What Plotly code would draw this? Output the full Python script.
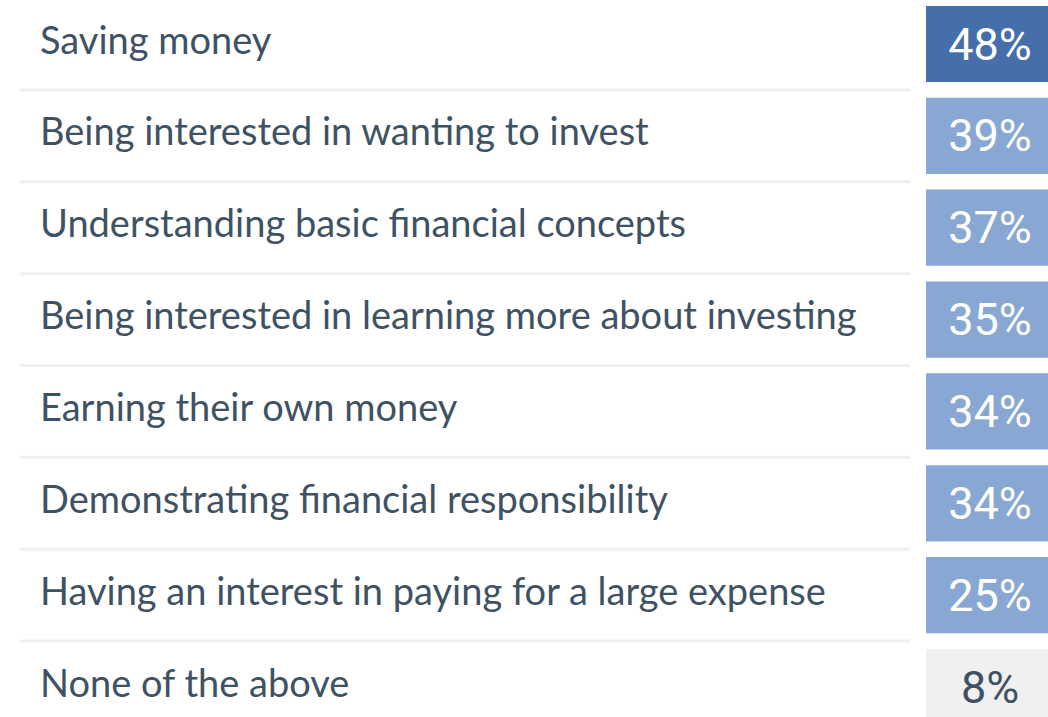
import plotly.graph_objects as go

categories = [
    "Saving money",
    "Being interested in wanting to invest",
    "Understanding basic financial concepts",
    "Being interested in learning more about investing",
    "Earning their own money",
    "Demonstrating financial responsibility",
    "Having an interest in paying for a large expense",
    "None of the above",
]
values = [48, 39, 37, 35, 34, 34, 25, 8]
box_colors = ["#456EAA", "#88A8D3", "#88A8D3", "#88A8D3", "#88A8D3", "#88A8D3", "#88A8D3", "#F0F0F0"]
text_colors = ["#FFFFFF"] * 7 + ["#3E5263"]

W, H = 1048, 717
label_color = "#3E5263"
n = len(categories)
idx = list(range(n))

fig = go.Figure()

# Value boxes (fixed-width cells) with percentage text
fig.add_trace(go.Bar(
    x=[1] * n,
    y=idx,
    orientation="h",
    width=0.83,
    marker=dict(color=box_colors, line=dict(width=0)),
    text=[f"{v}%" for v in values],
    textposition="inside",
    insidetextanchor="middle",
    textfont=dict(family="Roboto", size=45, color=text_colors),
    xaxis="x2",
    yaxis="y",
    hoverinfo="skip",
    showlegend=False,
))

# Category labels as text marks
fig.add_trace(go.Scatter(
    x=[40] * n,
    y=idx,
    mode="text",
    text=categories,
    textposition="middle right",
    textfont=dict(family="Lato", size=38, color=label_color),
    xaxis="x",
    yaxis="y",
    hoverinfo="skip",
    showlegend=False,
))

# Row separators
shapes = []
for i in range(n - 1):
    shapes.append(dict(
        type="line", xref="x", yref="y",
        x0=20, x1=910, y0=i + 0.5, y1=i + 0.5,
        line=dict(color="#EFEFEF", width=3),
    ))

pitch = (687 - 44) / 7.0
top = -44 / pitch
bottom = (H - 44) / pitch

fig.update_layout(
    width=W, height=H,
    margin=dict(l=0, r=0, t=0, b=0),
    paper_bgcolor="white",
    plot_bgcolor="white",
    shapes=shapes,
    xaxis=dict(domain=[0, 1], range=[0, W], visible=False, fixedrange=True),
    xaxis2=dict(domain=[926 / W, 1], range=[0, 0.953], visible=False, anchor="y"),
    yaxis=dict(range=[bottom, top], visible=False),
    uniformtext=dict(minsize=40, mode="show"),
)

fig.write_html(
    "out.html",
    config={"displayModeBar": False},
    post_script="document.body.style.margin='0';document.body.style.overflow='hidden';",
)
